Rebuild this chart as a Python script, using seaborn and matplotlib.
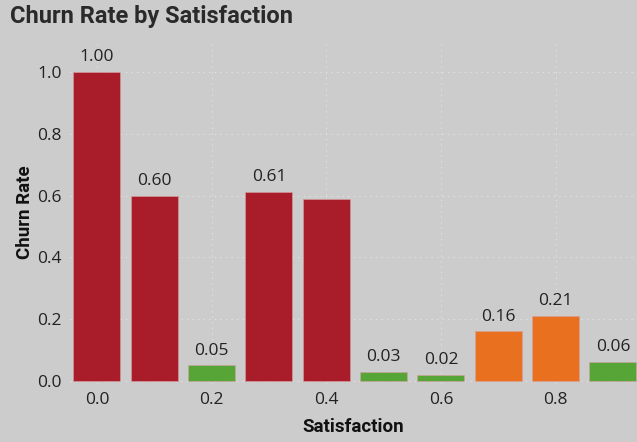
import matplotlib
matplotlib.use("Agg")
import matplotlib.pyplot as plt
import seaborn as sns
import pandas as pd

satisfaction = ["0.0", "0.1", "0.2", "0.3", "0.4", "0.5", "0.6", "0.7", "0.8", "0.9"]
churn_rate = [1.00, 0.60, 0.05, 0.61, 0.59, 0.03, 0.02, 0.16, 0.21, 0.06]
risk = ["high", "high", "low", "high", "high", "low", "low", "mid", "mid", "low"]
bar_labels = ["1.00", "0.60", "0.05", "0.61", "", "0.03", "0.02", "0.16", "0.21", "0.06"]
risk_colors = {"high": "#A91C29", "low": "#57A537", "mid": "#E8701E"}
xtick_labels = ["0.0", "0.2", "0.4", "0.6", "0.8"]
ytick_values = [0.0, 0.2, 0.4, 0.6, 0.8, 1.0]

df = pd.DataFrame({"Satisfaction": satisfaction, "Churn Rate": churn_rate, "risk": risk})

sns.set_theme(style="white")
bg = "#CCCCCC"
fig = plt.figure(figsize=(6.37, 4.42), dpi=100, facecolor=bg)
ax = fig.add_axes([70 / 637, 1 - 384 / 442, 1 - 70 / 637, (384 - 41) / 442])
ax.set_facecolor(bg)

sns.barplot(data=df, x="Satisfaction", y="Churn Rate", hue="risk", palette=risk_colors,
            dodge=False, legend=False, width=0.82, ax=ax, zorder=3, saturation=1,
            edgecolor="#D8A0A0", linewidth=0.4)

for c in ax.containers:
    labels = []
    for p in c:
        i = int(round(p.get_x() + p.get_width() / 2))
        labels.append(bar_labels[i])
    ax.bar_label(c, labels=labels, padding=5, fontsize=12.5, color="#222222",
                 fontfamily="Open Sans")

ax.set_xlim(-0.47, 9.42)
ax.set_ylim(-0.01, 1.1)
ax.set_xticks([0, 2, 4, 6, 8])
ax.set_xticklabels(xtick_labels)
ax.set_yticks(ytick_values)
ax.set_yticklabels([f"{v:.1f}" for v in ytick_values])
for lab in ax.get_xticklabels() + ax.get_yticklabels():
    lab.set_fontfamily("Open Sans")
    lab.set_fontsize(12.5)
    lab.set_color("#222222")
ax.tick_params(length=0, pad=6)

ax.grid(True, axis="both", linestyle=(0, (1, 4)), color="#E6E6E6", linewidth=0.8, zorder=0)
ax.set_axisbelow(True)
for s in ax.spines.values():
    s.set_visible(False)

ax.set_xlabel("Satisfaction", fontsize=13.5, fontweight="bold", fontfamily="Roboto",
              color="#111111", labelpad=7)
ax.set_ylabel("Churn Rate", fontsize=13.5, fontweight="bold", fontfamily="Roboto",
              color="#111111", labelpad=2)

fig.text(10 / 637, 1 - 16 / 442, "Churn Rate by Satisfaction", fontsize=17, fontweight="bold",
         fontfamily="Roboto", color="#2A2A2A", va="center", ha="left")

fig.savefig("out.png", dpi=100, facecolor=bg)
